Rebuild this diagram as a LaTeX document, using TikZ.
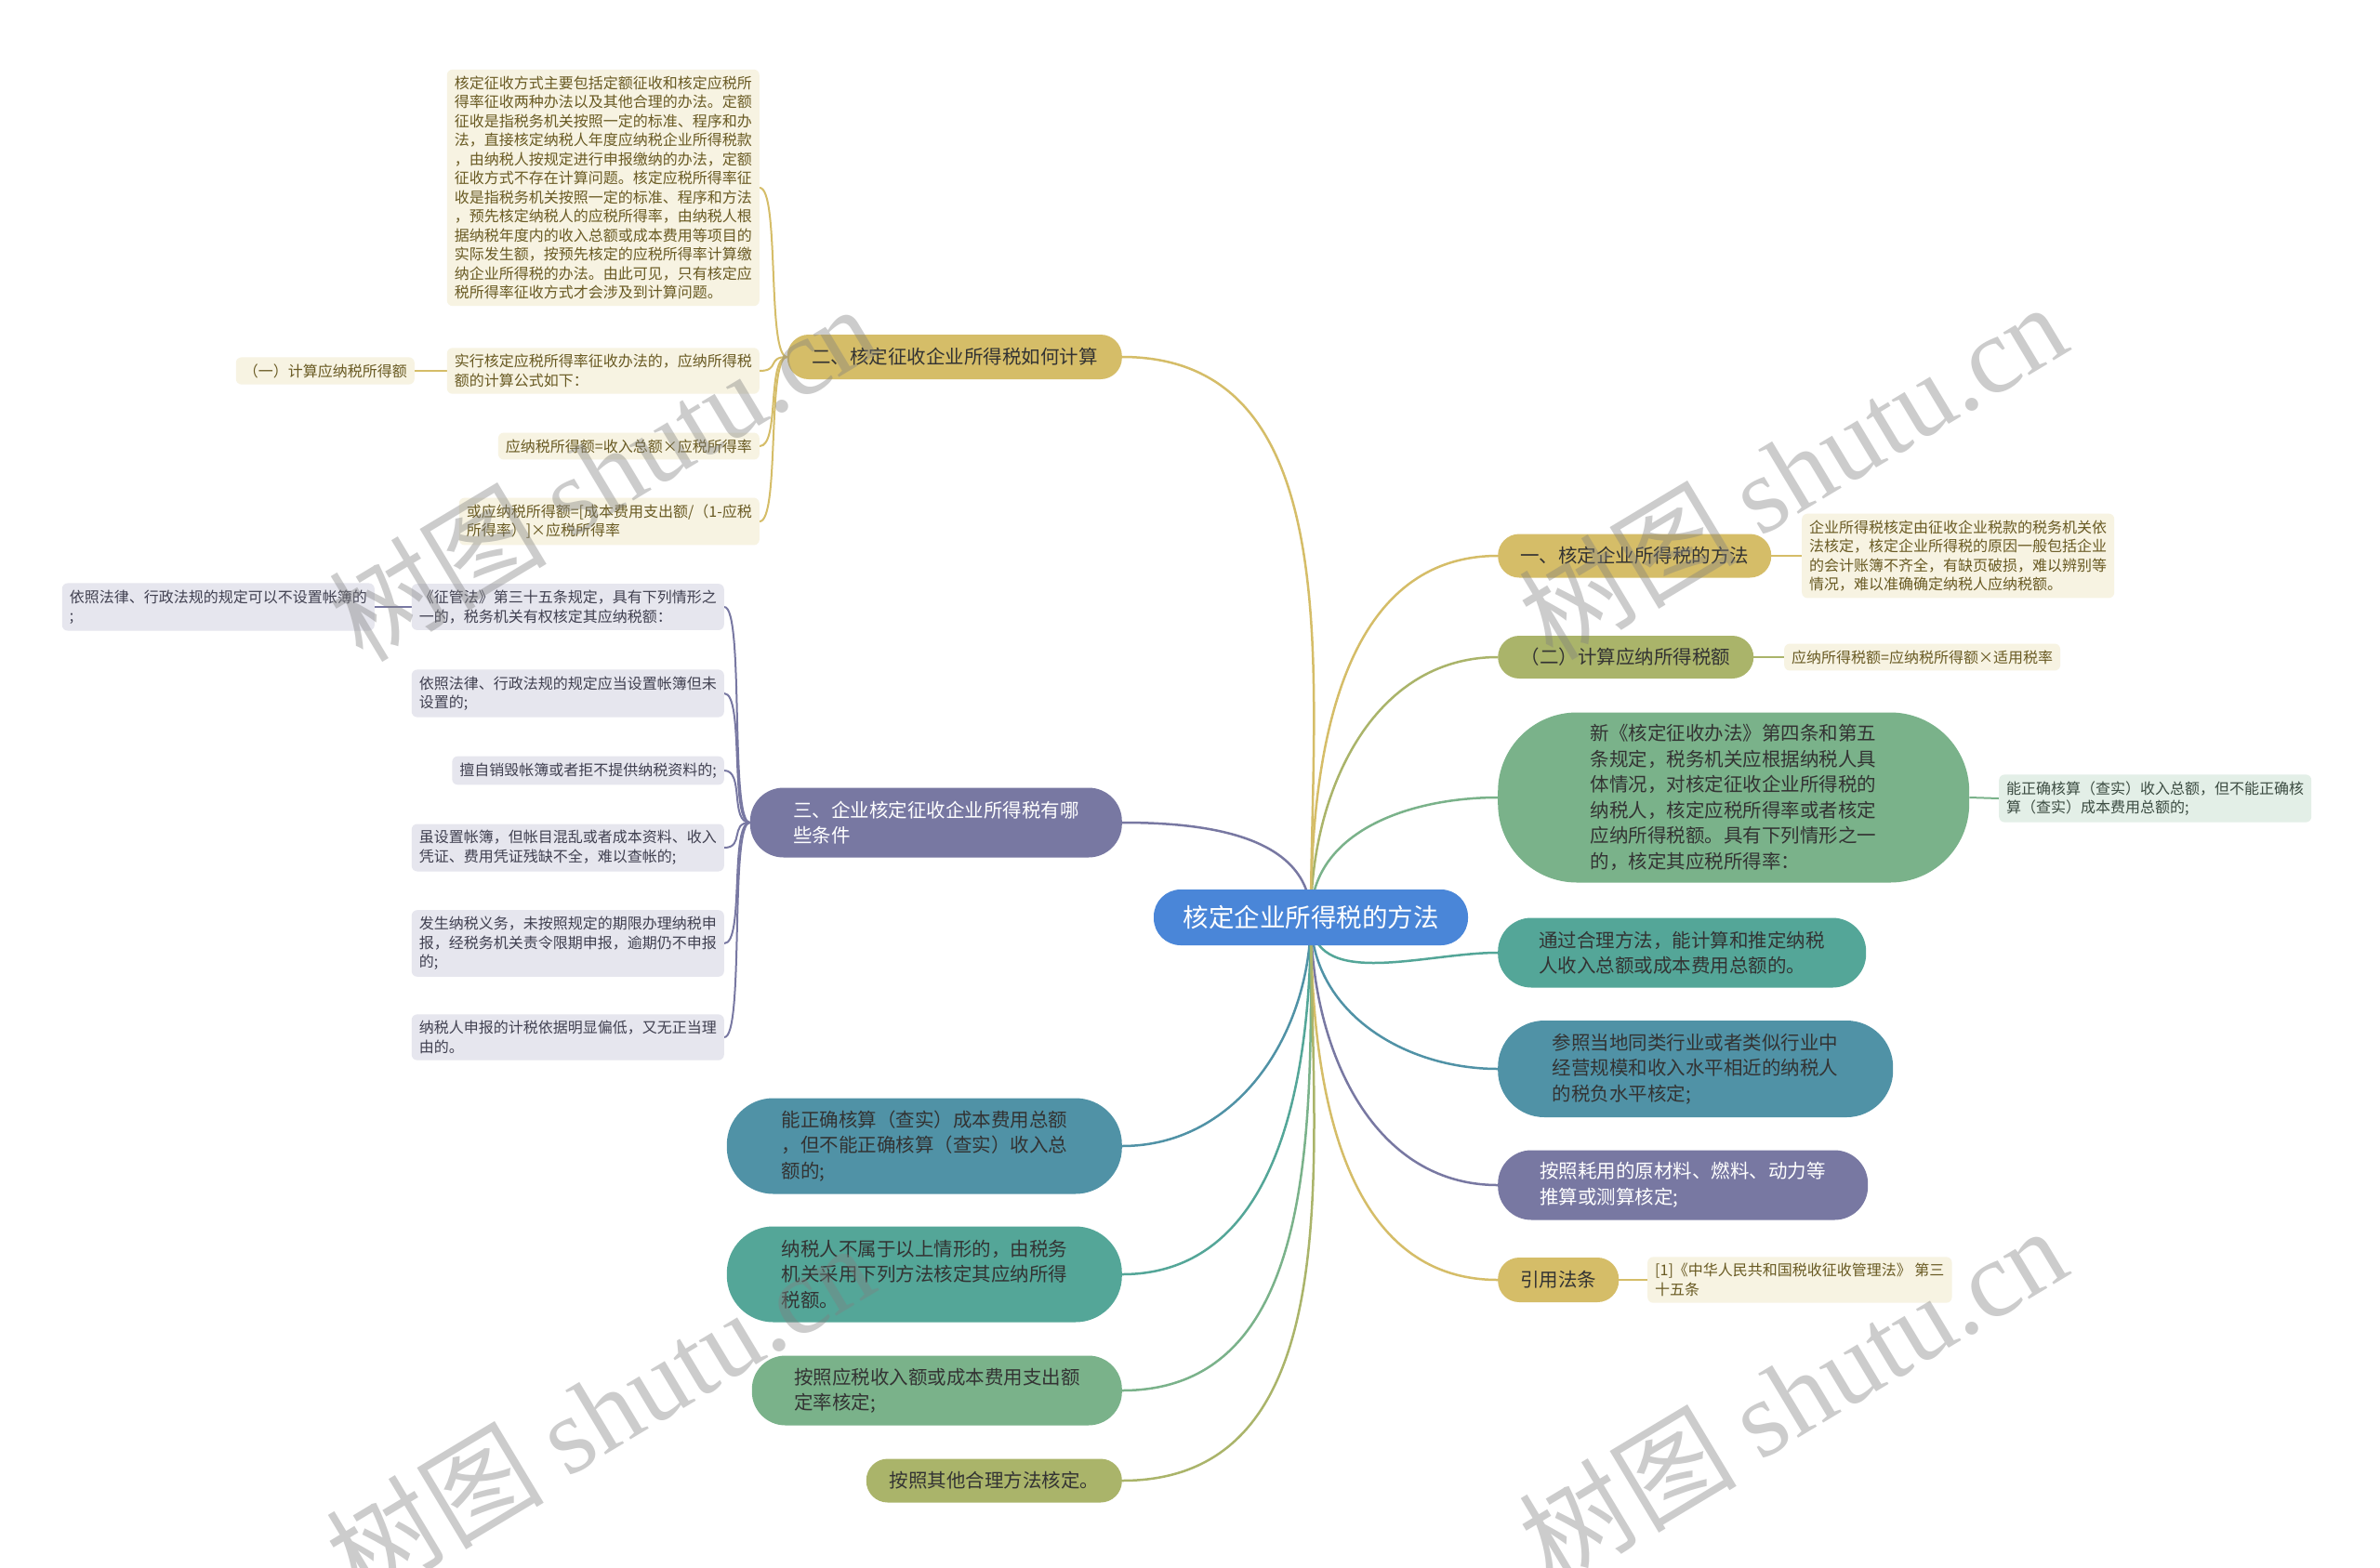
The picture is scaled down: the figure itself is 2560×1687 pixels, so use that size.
\documentclass[tikz,border=0pt]{standalone}
\usepackage{fontspec}
\newfontfamily\cjk{Noto Sans CJK SC}
\newfontfamily\wmserif{Liberation Serif}
\usetikzlibrary{backgrounds}
\definecolor{rootblue}{RGB}{74,134,216}
\definecolor{goldfill}{RGB}{213,189,104}
\definecolor{olivefill}{RGB}{170,180,106}
\definecolor{greenfill}{RGB}{122,178,138}
\definecolor{tealfill}{RGB}{84,166,152}
\definecolor{bluefill}{RGB}{80,146,166}
\definecolor{purplefill}{RGB}{120,120,162}
\definecolor{creamleaf}{RGB}{247,243,226}
\definecolor{greyleaf}{RGB}{230,230,238}
\definecolor{mintleaf}{RGB}{227,239,231}
\definecolor{goldtext}{RGB}{105,90,35}
\definecolor{greytext}{RGB}{64,64,80}
\definecolor{minttext}{RGB}{60,76,66}
\definecolor{darktext}{RGB}{51,51,51}

\tikzset{
    rootbox/.style={font=\cjk\fontsize{27.5}{33}\selectfont, text=white, fill=rootblue,
        minimum width=338pt, minimum height=60pt, rounded corners=29pt, inner sep=0pt},
    branch/.style={font=\cjk\fontsize{20.5}{27.5}\selectfont, align=left, text=darktext,
        fill=#1, inner sep=0pt},
    leaf/.style={font=\cjk\fontsize{16}{20.5}\selectfont, align=left, fill=#1,
        inner xsep=8pt, inner ysep=7pt, rounded corners=6pt},
    link/.style={draw=#1, line width=2.5pt},
    sublink/.style={draw=#1, line width=2pt}
}

\begin{document}
\begin{tikzpicture}[x=1pt, y=-1pt]
    \useasboundingbox (0,0) rectangle (2560,1687);

    % Root
    \node[rootbox] (root) at (1410,987) {核定企业所得税的方法};

    % Right branches
    \node[branch=goldfill, minimum width=294pt, minimum height=47pt, rounded corners=23pt, anchor=west] (m1) at (1611,598) {一、核定企业所得税的方法};
    \node[branch=olivefill, minimum width=275pt, minimum height=46pt, rounded corners=23pt, anchor=west] (m2) at (1611,707) {（二）计算应纳所得税额};
    \node[branch=greenfill, minimum width=507pt, minimum height=183pt, rounded corners=85pt, anchor=west] (m3) at (1611,858) {新《核定征收办法》第四条和第五\\条规定，税务机关应根据纳税人具\\体情况，对核定征收企业所得税的\\纳税人，核定应税所得率或者核定\\应纳所得税额。具有下列情形之一\\的，核定其应税所得率：};
    \node[branch=tealfill, minimum width=396pt, minimum height=75pt, rounded corners=36pt, anchor=west] (m4) at (1611,1025) {通过合理方法，能计算和推定纳税\\人收入总额或成本费用总额的。};
    \node[branch=bluefill, minimum width=425pt, minimum height=104pt, rounded corners=50pt, anchor=west] (m5) at (1611,1150) {参照当地同类行业或者类似行业中\\经营规模和收入水平相近的纳税人\\的税负水平核定;};
    \node[branch=purplefill, text=white, minimum width=398pt, minimum height=75pt, rounded corners=36pt, anchor=west] (m6) at (1611,1275) {按照耗用的原材料、燃料、动力等\\推算或测算核定;};
    \node[branch=goldfill, minimum width=130pt, minimum height=48pt, rounded corners=23pt, anchor=west] (m7) at (1611,1377) {引用法条};

    % Right leaves
    \node[leaf=creamleaf, text=goldtext, anchor=west] (m1a) at (1938,598) {企业所得税核定由征收企业税款的税务机关依\\法核定，核定企业所得税的原因一般包括企业\\的会计账簿不齐全，有缺页破损，难以辨别等\\情况，难以准确确定纳税人应纳税额。};
    \node[leaf=creamleaf, text=goldtext, anchor=west] (m2a) at (1919,707) {应纳所得税额=应纳税所得额×适用税率};
    \node[leaf=mintleaf, text=minttext, anchor=west] (m3a) at (2150,859) {能正确核算（查实）收入总额，但不能正确核\\算（查实）成本费用总额的;};
    \node[leaf=creamleaf, text=goldtext, anchor=west] (m7a) at (1772,1377) {[1]《中华人民共和国税收征收管理法》 第三\\十五条};

    % Left branches
    \node[branch=goldfill, minimum width=360pt, minimum height=48pt, rounded corners=23pt, anchor=east] (n1) at (1207,384) {二、核定征收企业所得税如何计算};
    \node[branch=purplefill, text=white, minimum width=400pt, minimum height=75pt, rounded corners=36pt, anchor=east] (n2) at (1207,885) {三、企业核定征收企业所得税有哪\\些条件};
    \node[branch=bluefill, minimum width=425pt, minimum height=103pt, rounded corners=50pt, anchor=east] (n3) at (1207,1233) {能正确核算（查实）成本费用总额\\，但不能正确核算（查实）收入总\\额的;};
    \node[branch=tealfill, minimum width=425pt, minimum height=103pt, rounded corners=50pt, anchor=east] (n4) at (1207,1371) {纳税人不属于以上情形的，由税务\\机关采用下列方法核定其应纳所得\\税额。};
    \node[branch=greenfill, minimum width=398pt, minimum height=75pt, rounded corners=36pt, anchor=east] (n5) at (1207,1496) {按照应税收入额或成本费用支出额\\定率核定;};
    \node[branch=olivefill, minimum width=275pt, minimum height=47pt, rounded corners=23pt, anchor=east] (n6) at (1207,1593) {按照其他合理方法核定。};

    % Leaves of n1
    \node[leaf=creamleaf, text=goldtext, anchor=east] (n1a) at (817,202) {核定征收方式主要包括定额征收和核定应税所\\得率征收两种办法以及其他合理的办法。定额\\征收是指税务机关按照一定的标准、程序和办\\法，直接核定纳税人年度应纳税企业所得税款\\，由纳税人按规定进行申报缴纳的办法，定额\\征收方式不存在计算问题。核定应税所得率征\\收是指税务机关按照一定的标准、程序和方法\\，预先核定纳税人的应税所得率，由纳税人根\\据纳税年度内的收入总额或成本费用等项目的\\实际发生额，按预先核定的应税所得率计算缴\\纳企业所得税的办法。由此可见，只有核定应\\税所得率征收方式才会涉及到计算问题。};
    \node[leaf=creamleaf, text=goldtext, anchor=east] (n1b) at (817,399) {实行核定应税所得率征收办法的，应纳所得税\\额的计算公式如下：};
    \node[leaf=creamleaf, text=goldtext, anchor=east] (n1e) at (446,399) {（一）计算应纳税所得额};
    \node[leaf=creamleaf, text=goldtext, anchor=east] (n1c) at (817,480) {应纳税所得额=收入总额×应税所得率};
    \node[leaf=creamleaf, text=goldtext, anchor=east] (n1d) at (817,561) {或应纳税所得额=[成本费用支出额/（1-应税\\所得率）]×应税所得率};

    % Leaves of n2
    \node[leaf=greyleaf, text=greytext, anchor=east] (n2a) at (779,653) {《征管法》第三十五条规定，具有下列情形之\\一的，税务机关有权核定其应纳税额：};
    \node[leaf=greyleaf, text=greytext, anchor=east] (n2g) at (403,653) {依照法律、行政法规的规定可以不设置帐簿的\\;};
    \node[leaf=greyleaf, text=greytext, anchor=east] (n2b) at (779,746) {依照法律、行政法规的规定应当设置帐簿但未\\设置的;};
    \node[leaf=greyleaf, text=greytext, anchor=east] (n2c) at (779,829) {擅自销毁帐簿或者拒不提供纳税资料的;};
    \node[leaf=greyleaf, text=greytext, anchor=east] (n2d) at (779,912) {虽设置帐簿，但帐目混乱或者成本资料、收入\\凭证、费用凭证残缺不全，难以查帐的;};
    \node[leaf=greyleaf, text=greytext, anchor=east] (n2e) at (779,1015) {发生纳税义务，未按照规定的期限办理纳税申\\报，经税务机关责令限期申报，逾期仍不申报\\的;};
    \node[leaf=greyleaf, text=greytext, anchor=east] (n2f) at (779,1116) {纳税人申报的计税依据明显偏低，又无正当理\\由的。};

    % Connectors
    \begin{scope}[on background layer]
        \fill[white] (0,0) rectangle (2560,1687);
        % root to right branches
        \draw[link=goldfill] (root.center) to[out=90, in=180] (m1.west);
        \draw[link=olivefill] (root.center) to[out=90, in=180] (m2.west);
        \draw[link=greenfill] (root.center) to[out=90, in=180] (m3.west);
        \draw[link=tealfill] (root.center) to[out=-90, in=180] (m4.west);
        \draw[link=bluefill] (root.center) to[out=-90, in=180] (m5.west);
        \draw[link=purplefill] (root.center) to[out=-90, in=180] (m6.west);
        \draw[link=goldfill] (root.center) to[out=-90, in=180] (m7.west);
        % root to left branches
        \draw[link=goldfill] (root.center) to[out=90, in=0] (n1.east);
        \draw[link=purplefill] (root.center) to[out=90, in=0] (n2.east);
        \draw[link=bluefill] (root.center) to[out=-90, in=0] (n3.east);
        \draw[link=tealfill] (root.center) to[out=-90, in=0] (n4.east);
        \draw[link=greenfill] (root.center) to[out=-90, in=0] (n5.east);
        \draw[link=olivefill] (root.center) to[out=-90, in=0] (n6.east);
        % right leaves
        \draw[sublink=goldfill] (m1.east) -- (m1a.west);
        \draw[sublink=olivefill] (m2.east) -- (m2a.west);
        \draw[sublink=greenfill] (m3.east) -- (m3a.west);
        \draw[sublink=goldfill] (m7.east) -- (m7a.west);
        % left leaves
        \foreach \leafname in {n1a, n1b, n1c, n1d} {
            \draw[sublink=goldfill] (n1.west) .. controls +(-22,0) and +(22,0) .. (\leafname.east);
        }
        \draw[sublink=goldfill] (n1b.west) -- (n1e.east);
        \foreach \leafname in {n2a, n2b, n2c, n2d, n2e, n2f} {
            \draw[sublink=purplefill] (n2.west) .. controls +(-22,0) and +(22,0) .. (\leafname.east);
        }
        \draw[sublink=purplefill] (n2a.west) -- (n2g.east);
    \end{scope}

    % Watermarks
    \foreach \wx/\wy in {648/508, 1928/506, 645/1518, 1928/1500} {
        \node[rotate=31, text=gray, opacity=0.4, font=\fontsize{117}{117}\selectfont] at (\wx,\wy) {\cjk 树图 \wmserif shutu.cn};
    }
\end{tikzpicture}
\end{document}
